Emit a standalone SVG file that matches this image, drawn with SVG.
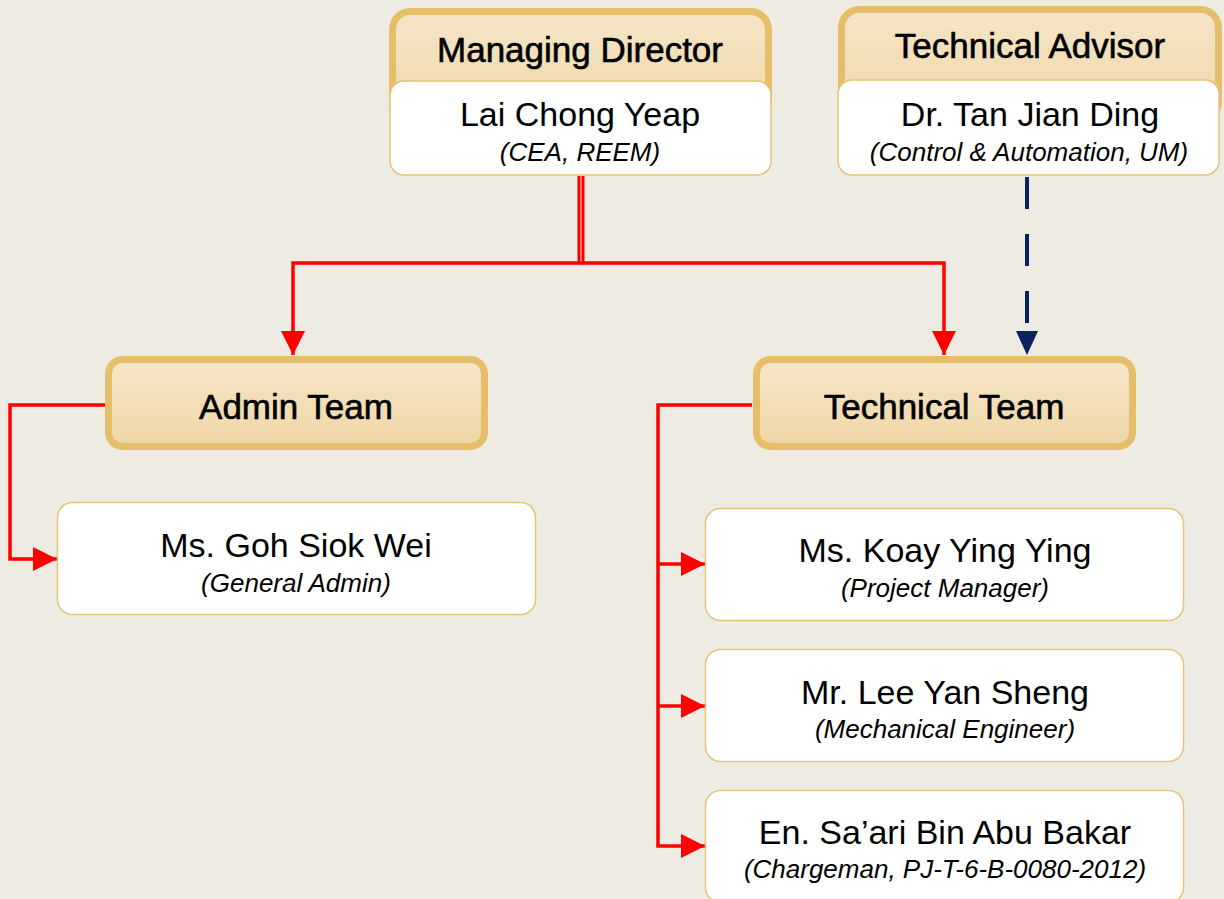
<svg xmlns="http://www.w3.org/2000/svg" width="1224" height="899" viewBox="0 0 1224 899">
<defs>
<linearGradient id="hdr" x1="0" y1="0" x2="0" y2="1">
<stop offset="0" stop-color="#F5E6C9"/>
<stop offset="1" stop-color="#EFD6A5"/>
</linearGradient>
<marker id="ar" viewBox="0 0 24 24" refX="24" refY="12" markerWidth="24" markerHeight="24" markerUnits="userSpaceOnUse" orient="auto">
<path d="M0,0 L24,12 L0,24 z" fill="#FF0000"/>
</marker>
<marker id="ab" viewBox="0 0 24 24" refX="24" refY="12" markerWidth="24" markerHeight="24" markerUnits="userSpaceOnUse" orient="auto">
<path d="M0,1 L24,12 L0,23 z" fill="#0B2260"/>
</marker>
</defs>
<style>
.head{fill:url(#hdr);stroke:#E4BE69;stroke-width:7}
.card{fill:#FFFFFF;stroke:#E6C37A;stroke-width:1.5}
.ht{font-family:"Liberation Sans",Arial,sans-serif;font-size:35px;fill:#000;stroke:#000;stroke-width:0.6;text-anchor:middle}
.nm{font-family:"Liberation Sans",Arial,sans-serif;font-size:34px;fill:#000;text-anchor:middle}
.rl{font-family:"Liberation Sans",Arial,sans-serif;font-size:26px;font-style:italic;fill:#000;text-anchor:middle}
.red{fill:none;stroke:#FF0000;stroke-width:3.5}
</style>
<rect x="0" y="0" width="1224" height="899" fill="#EEEBE3"/>
<g id="connectors">
<line x1="579" y1="176" x2="579" y2="263" stroke="#FF0000" stroke-width="3"/>
<line x1="583" y1="176" x2="583" y2="263" stroke="#FF0000" stroke-width="3"/>
<path class="red" d="M581,263 H293 V355" marker-end="url(#ar)"/>
<path class="red" d="M581,263 H944 V355" marker-end="url(#ar)"/>
<line x1="1027" y1="177" x2="1027" y2="330" stroke="#0B2260" stroke-width="4" stroke-dasharray="32 25"/>
<line x1="1027" y1="325" x2="1027" y2="355" stroke="#0B2260" stroke-width="0" marker-end="url(#ab)"/>
<path class="red" d="M105,405 H10 V559 H57" marker-end="url(#ar)"/>
<path class="red" d="M752,405 H658 V846 H705" marker-end="url(#ar)"/>
<path class="red" d="M658,564 H705" marker-end="url(#ar)"/>
<path class="red" d="M658,706 H705" marker-end="url(#ar)"/>
</g>
<g id="managing-director">
<rect class="head" x="392.5" y="11.5" width="376" height="110" rx="18"/>
<text class="ht" x="580" y="62">Managing Director</text>
<rect class="card" x="390" y="81" width="381" height="94" rx="14"/>
<text class="nm" x="580" y="126">Lai Chong Yeap</text>
<text class="rl" x="580" y="161">(CEA, REEM)</text>
</g>
<g id="technical-advisor">
<rect class="head" x="841.5" y="9.5" width="377" height="110" rx="18"/>
<text class="ht" x="1030" y="58">Technical Advisor</text>
<rect class="card" x="838" y="80" width="381" height="95" rx="14"/>
<text class="nm" x="1030" y="126">Dr. Tan Jian Ding</text>
<text class="rl" x="1029" y="161">(Control &amp; Automation, UM)</text>
</g>
<g id="admin-team">
<rect class="head" x="108.5" y="359.5" width="376" height="87" rx="14"/>
<text class="ht" x="296" y="419">Admin Team</text>
</g>
<g id="technical-team">
<rect class="head" x="756.5" y="359.5" width="376" height="87" rx="14"/>
<text class="ht" x="944" y="419">Technical Team</text>
</g>
<g id="goh">
<rect class="card" x="57.5" y="502.5" width="478" height="112" rx="15"/>
<text class="nm" x="296" y="557">Ms. Goh Siok Wei</text>
<text class="rl" x="296" y="592">(General Admin)</text>
</g>
<g id="koay">
<rect class="card" x="705.5" y="508.5" width="478" height="112" rx="15"/>
<text class="nm" x="945" y="562">Ms. Koay Ying Ying</text>
<text class="rl" x="945" y="597">(Project Manager)</text>
</g>
<g id="lee">
<rect class="card" x="705.5" y="649.5" width="478" height="112" rx="15"/>
<text class="nm" x="945" y="704">Mr. Lee Yan Sheng</text>
<text class="rl" x="945" y="738">(Mechanical Engineer)</text>
</g>
<g id="saari">
<rect class="card" x="705.5" y="790.5" width="478" height="112" rx="15"/>
<text class="nm" x="945" y="844">En. Sa’ari Bin Abu Bakar</text>
<text class="rl" x="945" y="878">(Chargeman, PJ-T-6-B-0080-2012)</text>
</g>
</svg>
